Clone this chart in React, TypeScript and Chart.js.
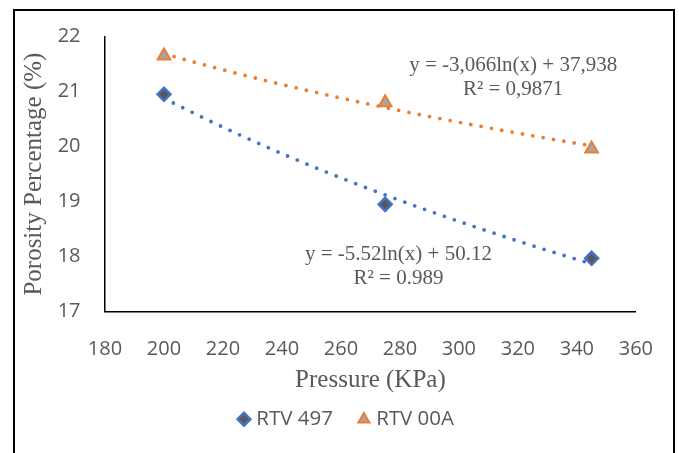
import React, { useEffect, useRef } from "react";
import { Chart, registerables } from "chart.js";

Chart.register(...registerables);

// ---- Data ----
const pressures = [200, 275, 345];
const rtv497 = [20.95, 18.95, 17.97];
const rtv00a = [21.65, 20.8, 19.96];
const seriesNames = ["RTV 497", "RTV 00A"];

const xTickMin = 180;
const xTickMax = 360;
const xTickStep = 20;
const yTickMin = 17;
const yTickMax = 22;
const yTickStep = 1;

const xTitle = "Pressure (KPa)";
const yTitle = "Porosity Percentage (%)";

const eqLabel00a = ["y = -3,066ln(x) + 37,938", "R² = 0,9871"];
const eqLabel497 = ["y = -5.52ln(x) + 50.12", "R² = 0.989"];

// ---- Styling ----
const BLUE = "#4472C4";
const ORANGE = "#ED7D31";
const TEXT = "#595959";
const SANS = "'Open Sans', 'Liberation Sans', sans-serif";
const SERIF = "'Liberation Serif', 'Times New Roman', serif";

// Excel-style logarithmic trendline (least squares on ln x)
function logFit(xs: number[], ys: number[]) {
  const lx = xs.map((v) => Math.log(v));
  const n = xs.length;
  const mx = lx.reduce((a, b) => a + b, 0) / n;
  const my = ys.reduce((a, b) => a + b, 0) / n;
  let sxy = 0;
  let sxx = 0;
  for (let i = 0; i < n; i++) {
    sxy += (lx[i] - mx) * (ys[i] - my);
    sxx += (lx[i] - mx) * (lx[i] - mx);
  }
  const a = sxy / sxx;
  const b = my - a * mx;
  return { a, b };
}

function trendCurve(xs: number[], ys: number[]) {
  const { a, b } = logFit(xs, ys);
  const lo = Math.min(...xs);
  const hi = Math.max(...xs);
  const steps = 120;
  const pts: { x: number; y: number }[] = [];
  for (let i = 0; i <= steps; i++) {
    const x = lo + ((hi - lo) * i) / steps;
    pts.push({ x, y: a * Math.log(x) + b });
  }
  return pts;
}

const toPoints = (xs: number[], ys: number[]) => xs.map((x, i) => ({ x, y: ys[i] }));

const equationLabels = [
  { x: 318.4, y: 21.48, lines: eqLabel00a },
  { x: 279.5, y: 18.04, lines: eqLabel497 },
];

const equationPlugin = {
  id: "equationLabels",
  afterDatasetsDraw(chart: any) {
    const { ctx, scales } = chart;
    const xs = scales.x;
    const ys = scales.y;
    ctx.save();
    ctx.font = `21px ${SERIF}`;
    ctx.fillStyle = TEXT;
    ctx.textAlign = "center";
    ctx.textBaseline = "middle";
    for (const lab of equationLabels) {
      const px = xs.getPixelForValue(lab.x);
      const py = ys.getPixelForValue(lab.y);
      lab.lines.forEach((t, i) => ctx.fillText(t, px, py + i * 24.5));
    }
    ctx.restore();
  },
};

export default function App() {
  const canvasRef = useRef<HTMLCanvasElement | null>(null);

  useEffect(() => {
    if (!canvasRef.current) return;
    const trendStyle = {
      showLine: true,
      pointRadius: 0,
      pointHoverRadius: 0,
      borderWidth: 3.8,
      borderDash: [0, 10.5],
      borderCapStyle: "round" as const,
      fill: false,
      order: 2,
    };
    const chart = new Chart(canvasRef.current, {
      type: "scatter",
      data: {
        datasets: [
          {
            label: seriesNames[0],
            data: toPoints(pressures, rtv497),
            pointStyle: "rectRot",
            pointRadius: 6.5,
            borderWidth: 2.5,
            borderColor: BLUE,
            backgroundColor: "#595959",
            order: 1,
          },
          {
            label: seriesNames[1],
            data: toPoints(pressures, rtv00a),
            pointStyle: "triangle",
            pointRadius: 7.3,
            borderWidth: 2,
            borderColor: ORANGE,
            backgroundColor: "#A5A5A5",
            order: 1,
          },
          {
            label: "trend 497",
            data: trendCurve(pressures, rtv497),
            borderColor: BLUE,
            ...trendStyle,
          } as any,
          {
            label: "trend 00A",
            data: trendCurve(pressures, rtv00a),
            borderColor: ORANGE,
            ...trendStyle,
          } as any,
        ],
      },
      options: {
        responsive: false,
        animation: false,
        events: [],
        layout: { padding: { left: 56, right: 39, top: 30.5, bottom: 13.5 } },
        scales: {
          x: {
            type: "linear",
            min: xTickMin,
            max: xTickMax,
            ticks: {
              stepSize: xTickStep,
              color: TEXT,
              font: { family: SANS, size: 20 },
              padding: 26,
            },
            grid: { display: false, drawTicks: false },
            border: { display: true, color: "#000000", width: 1.5 },
            title: {
              display: true,
              text: xTitle,
              color: TEXT,
              font: { family: SERIF, size: 25 },
              padding: { top: 0, bottom: -15 },
            },
            afterFit: (s: any) => {
              s.height = 68.3;
            },
          },
          y: {
            type: "linear",
            min: yTickMin,
            max: yTickMax,
            ticks: {
              stepSize: yTickStep,
              color: TEXT,
              font: { family: SANS, size: 20 },
              padding: 24.5,
            },
            grid: { display: false, drawTicks: false },
            border: { display: true, color: "#000000", width: 1.5 },
            title: {
              display: true,
              text: yTitle,
              color: TEXT,
              font: { family: SERIF, size: 25 },
              padding: { top: -37, bottom: 0 },
            },
            afterFit: (s: any) => {
              s.width = 49;
            },
          },
        },
        plugins: {
          tooltip: { enabled: false },
          legend: {
            display: true,
            position: "bottom",
            labels: {
              usePointStyle: true,
              boxWidth: 4,
              boxHeight: 9,
              padding: 29,
              color: TEXT,
              font: { family: SANS, size: 20.5 },
              filter: (item: any) => item.datasetIndex < 2,
            },
          },
        },
      },
      plugins: [equationPlugin],
    });
    return () => chart.destroy();
  }, []);

  return (
    <div
      style={{
        position: "absolute",
        left: 0,
        top: 0,
        width: 679,
        height: 453,
        overflow: "hidden",
        background: "#ffffff",
      }}
    >
      <div
        style={{
          position: "absolute",
          left: 13,
          top: 9,
          width: 658,
          height: 520,
          border: "2px solid #000000",
        }}
      />
      <canvas
        ref={canvasRef}
        width={679}
        height={453}
        style={{ position: "absolute", left: 0, top: 0, width: 679, height: 453 }}
      />
    </div>
  );
}
